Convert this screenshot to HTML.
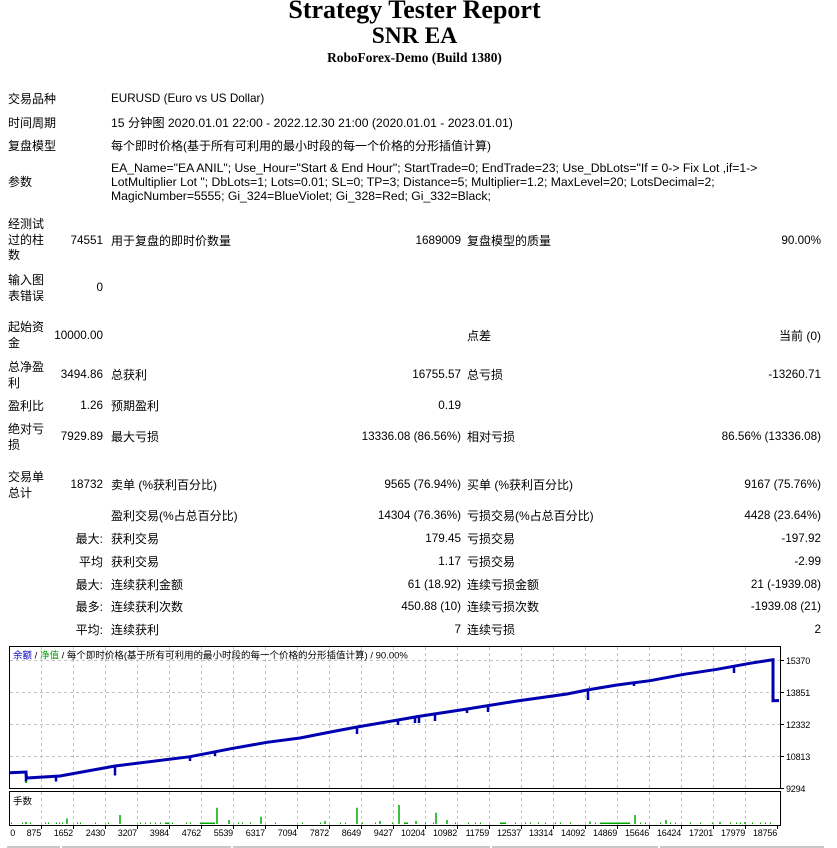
<!DOCTYPE html>
<html><head><meta charset="utf-8">
<style>
html,body{margin:0;padding:0;background:#fff;}
#p{position:relative;width:837px;height:848px;overflow:hidden;background:#fff;color:#000;}
.t{position:absolute;white-space:nowrap;font-family:"Liberation Sans","Noto Sans CJK SC",sans-serif;font-size:12px;line-height:16px;}
.n{font-size:11.7px;}
.w{font-size:12.2px;}
.r{text-align:right;}
.h{position:absolute;left:0;width:829px;text-align:center;font-family:"Liberation Serif",serif;font-weight:bold;white-space:nowrap;}
svg{position:absolute;left:0;top:0;}
</style></head><body><div id="p">
<div class="h" style="top:-3.5px;font-size:26px;line-height:26px;">Strategy Tester Report</div>
<div class="h" style="top:24.6px;font-size:23.5px;line-height:23.5px;">SNR EA</div>
<div class="h" style="top:50.5px;font-size:13.35px;line-height:13.35px;">RoboForex-Demo (Build 1380)</div>

<div class="t" style="left:8px;top:91px;">交易品种</div>
<div class="t n" style="left:111px;top:91px;">EURUSD (Euro vs US Dollar)</div>
<div class="t" style="left:8px;top:114.5px;">时间周期</div>
<div class="t w" style="left:111px;top:114.5px;">15 分钟图 2020.01.01 22:00 - 2022.12.30 21:00 (2020.01.01 - 2023.01.01)</div>
<div class="t" style="left:8px;top:137.5px;">复盘模型</div>
<div class="t" style="left:111px;top:137.5px;">每个即时价格(基于所有可利用的最小时段的每一个价格的分形插值计算)</div>
<div class="t" style="left:8px;top:174px;">参数</div>
<div class="t w" style="left:111px;top:160.7px;line-height:14px;">EA_Name="EA ANIL"; Use_Hour="Start &amp; End Hour"; StartTrade=0; EndTrade=23; Use_DbLots="If = 0-&gt; Fix Lot ,if=1-&gt;<br>LotMultiplier Lot "; DbLots=1; Lots=0.01; SL=0; TP=3; Distance=5; Multiplier=1.2; MaxLevel=20; LotsDecimal=2;<br>MagicNumber=5555; Gi_324=BlueViolet; Gi_328=Red; Gi_332=Black;</div>

<div class="t" style="left:8px;top:217px;line-height:15.5px;">经测试<br>过的柱<br>数</div>
<div class="t n r" style="right:734px;top:233px;">74551</div>
<div class="t" style="left:111px;top:233px;">用于复盘的即时价数量</div>
<div class="t n r" style="right:376px;top:233px;">1689009</div>
<div class="t" style="left:467px;top:233px;">复盘模型的质量</div>
<div class="t n r" style="right:16px;top:233px;">90.00%</div>

<div class="t" style="left:8px;top:272px;">输入图<br>表错误</div>
<div class="t n r" style="right:734px;top:280px;">0</div>

<div class="t" style="left:8px;top:319px;">起始资<br>金</div>
<div class="t n r" style="right:734px;top:327.5px;">10000.00</div>
<div class="t" style="left:467px;top:327.5px;">点差</div>
<div class="t r" style="right:16px;top:327.5px;">当前 (0)</div>

<div class="t" style="left:8px;top:358.5px;">总净盈<br>利</div>
<div class="t n r" style="right:734px;top:366.5px;">3494.86</div>
<div class="t" style="left:111px;top:366.5px;">总获利</div>
<div class="t n r" style="right:376px;top:366.5px;">16755.57</div>
<div class="t" style="left:467px;top:366.5px;">总亏损</div>
<div class="t n r" style="right:16px;top:366.5px;">-13260.71</div>

<div class="t" style="left:8px;top:398px;">盈利比</div>
<div class="t n r" style="right:734px;top:398px;">1.26</div>
<div class="t" style="left:111px;top:398px;">预期盈利</div>
<div class="t n r" style="right:376px;top:398px;">0.19</div>

<div class="t" style="left:8px;top:421px;">绝对亏<br>损</div>
<div class="t n r" style="right:734px;top:429px;">7929.89</div>
<div class="t" style="left:111px;top:429px;">最大亏损</div>
<div class="t n r" style="right:376px;top:429px;">13336.08 (86.56%)</div>
<div class="t" style="left:467px;top:429px;">相对亏损</div>
<div class="t n r" style="right:16px;top:429px;">86.56% (13336.08)</div>

<div class="t" style="left:8px;top:468.5px;">交易单<br>总计</div>
<div class="t n r" style="right:734px;top:476.5px;">18732</div>
<div class="t" style="left:111px;top:476.5px;">卖单 (%获利百分比)</div>
<div class="t n r" style="right:376px;top:476.5px;">9565 (76.94%)</div>
<div class="t" style="left:467px;top:476.5px;">买单 (%获利百分比)</div>
<div class="t n r" style="right:16px;top:476.5px;">9167 (75.76%)</div>

<div class="t" style="left:111px;top:508px;">盈利交易(%占总百分比)</div>
<div class="t n r" style="right:376px;top:508px;">14304 (76.36%)</div>
<div class="t" style="left:467px;top:508px;">亏损交易(%占总百分比)</div>
<div class="t n r" style="right:16px;top:508px;">4428 (23.64%)</div>

<div class="t r" style="right:734px;top:530.5px;">最大:</div>
<div class="t" style="left:111px;top:530.5px;">获利交易</div>
<div class="t n r" style="right:376px;top:530.5px;">179.45</div>
<div class="t" style="left:467px;top:530.5px;">亏损交易</div>
<div class="t n r" style="right:16px;top:530.5px;">-197.92</div>

<div class="t r" style="right:734px;top:553.5px;">平均</div>
<div class="t" style="left:111px;top:553.5px;">获利交易</div>
<div class="t n r" style="right:376px;top:553.5px;">1.17</div>
<div class="t" style="left:467px;top:553.5px;">亏损交易</div>
<div class="t n r" style="right:16px;top:553.5px;">-2.99</div>

<div class="t r" style="right:734px;top:576.5px;">最大:</div>
<div class="t" style="left:111px;top:576.5px;">连续获利金额</div>
<div class="t n r" style="right:376px;top:576.5px;">61 (18.92)</div>
<div class="t" style="left:467px;top:576.5px;">连续亏损金额</div>
<div class="t n r" style="right:16px;top:576.5px;">21 (-1939.08)</div>

<div class="t r" style="right:734px;top:599px;">最多:</div>
<div class="t" style="left:111px;top:599px;">连续获利次数</div>
<div class="t n r" style="right:376px;top:599px;">450.88 (10)</div>
<div class="t" style="left:467px;top:599px;">连续亏损次数</div>
<div class="t n r" style="right:16px;top:599px;">-1939.08 (21)</div>

<div class="t r" style="right:734px;top:622px;">平均:</div>
<div class="t" style="left:111px;top:622px;">连续获利</div>
<div class="t n r" style="right:376px;top:622px;">7</div>
<div class="t" style="left:467px;top:622px;">连续亏损</div>
<div class="t n r" style="right:16px;top:622px;">2</div>

<svg width="837" height="848" viewBox="0 0 837 848" xmlns="http://www.w3.org/2000/svg">
<g stroke="#c4c4c4" stroke-width="1" stroke-dasharray="3,3" fill="none">
<path d="M10 660.5H780M10 692.5H780M10 724.5H780M10 756.5H780"/>
<path d="M41.5 647V788M73.5 647V788M105.5 647V788M137.5 647V788M169.5 647V788M201.5 647V788M233.5 647V788M265.5 647V788M297.5 647V788M329.5 647V788M361.5 647V788M393.5 647V788M425.5 647V788M457.5 647V788M489.5 647V788M521.5 647V788M553.5 647V788M585.5 647V788M617.5 647V788M649.5 647V788M681.5 647V788M713.5 647V788M745.5 647V788"/>
<path d="M41.5 792V825M73.5 792V825M105.5 792V825M137.5 792V825M169.5 792V825M201.5 792V825M233.5 792V825M265.5 792V825M297.5 792V825M329.5 792V825M361.5 792V825M393.5 792V825M425.5 792V825M457.5 792V825M489.5 792V825M521.5 792V825M553.5 792V825M585.5 792V825M617.5 792V825M649.5 792V825M681.5 792V825M713.5 792V825M745.5 792V825"/>
</g>
<g fill="none" stroke="#000" stroke-width="1">
<rect x="9.5" y="646.5" width="771" height="142"/>
<rect x="9.5" y="791.5" width="771" height="34"/>
<path d="M780.5 660.5H784M780.5 692.5H784M780.5 724.5H784M780.5 756.5H784M780.5 788.5H784"/>
<path d="M41.5 825.5V829M73.5 825.5V829M105.5 825.5V829M137.5 825.5V829M169.5 825.5V829M201.5 825.5V829M233.5 825.5V829M265.5 825.5V829M297.5 825.5V829M329.5 825.5V829M361.5 825.5V829M393.5 825.5V829M425.5 825.5V829M457.5 825.5V829M489.5 825.5V829M521.5 825.5V829M553.5 825.5V829M585.5 825.5V829M617.5 825.5V829M649.5 825.5V829M681.5 825.5V829M713.5 825.5V829M745.5 825.5V829M777.5 825.5V829"/>
</g>
<g stroke="#00a800" stroke-width="1.5">
<path d="M217 824V807.7M357 824V807.7M399 824V805M436 824V812.7M120 824V815M635 824V815M261 824V816.7M67 824V818.5M229 824V820M447 824V820M666 824V820M325 824V821M380 824V821M416 824V821M26 824V822M590 824V821.5M720 824V822M745 824V822"/>
</g>
<g fill="#00a800">
<rect x="11" y="822.5" width="1" height="1.5"/><rect x="22" y="822.5" width="1" height="1.5"/><rect x="30" y="822.5" width="1" height="1.5"/><rect x="45" y="822.5" width="1" height="1.5"/><rect x="48" y="822.5" width="1" height="1.5"/><rect x="56" y="822.5" width="1" height="1.5"/><rect x="59" y="822.5" width="1" height="1.5"/><rect x="62" y="822.5" width="1" height="1.5"/><rect x="77" y="822.5" width="1" height="1.5"/><rect x="80" y="822.5" width="1" height="1.5"/><rect x="95" y="822.5" width="1" height="1.5"/><rect x="108" y="822.5" width="1" height="1.5"/><rect x="140" y="822.5" width="1" height="1.5"/><rect x="145" y="822.5" width="1" height="1.5"/><rect x="150" y="822.5" width="1" height="1.5"/><rect x="155" y="822.5" width="1" height="1.5"/><rect x="160" y="822.5" width="1" height="1.5"/><rect x="165" y="822.5" width="4" height="1.5"/><rect x="172" y="822.5" width="1" height="1.5"/><rect x="186" y="822.5" width="1" height="1.5"/><rect x="190" y="822.5" width="1" height="1.5"/><rect x="200" y="822.5" width="15" height="1.5"/><rect x="238" y="822.5" width="1" height="1.5"/><rect x="242" y="822.5" width="1" height="1.5"/><rect x="250" y="822.5" width="1" height="1.5"/><rect x="275" y="822.5" width="1" height="1.5"/><rect x="302" y="822.5" width="1" height="1.5"/><rect x="320" y="822.5" width="1" height="1.5"/><rect x="340" y="822.5" width="1" height="1.5"/><rect x="345" y="822.5" width="1" height="1.5"/><rect x="362" y="822.5" width="1" height="1.5"/><rect x="375" y="822.5" width="1" height="1.5"/><rect x="392" y="822.5" width="1" height="1.5"/><rect x="404" y="822.5" width="4" height="1.5"/><rect x="425" y="822.5" width="1" height="1.5"/><rect x="433" y="822.5" width="1" height="1.5"/><rect x="455" y="822.5" width="1" height="1.5"/><rect x="468" y="822.5" width="1" height="1.5"/><rect x="475" y="822.5" width="1" height="1.5"/><rect x="480" y="822.5" width="1" height="1.5"/><rect x="500" y="822.5" width="6" height="1.5"/><rect x="515" y="822.5" width="1" height="1.5"/><rect x="525" y="822.5" width="1" height="1.5"/><rect x="530" y="822.5" width="1" height="1.5"/><rect x="538" y="822.5" width="1" height="1.5"/><rect x="545" y="822.5" width="1" height="1.5"/><rect x="555" y="822.5" width="1" height="1.5"/><rect x="560" y="822.5" width="1" height="1.5"/><rect x="570" y="822.5" width="1" height="1.5"/><rect x="595" y="822.5" width="1" height="1.5"/><rect x="600" y="822.5" width="30" height="1.5"/><rect x="640" y="822.5" width="1" height="1.5"/><rect x="645" y="822.5" width="1" height="1.5"/><rect x="660" y="822.5" width="1" height="1.5"/><rect x="670" y="822.5" width="1" height="1.5"/><rect x="675" y="822.5" width="1" height="1.5"/><rect x="690" y="822.5" width="1" height="1.5"/><rect x="700" y="822.5" width="1" height="1.5"/><rect x="712" y="822.5" width="1" height="1.5"/><rect x="730" y="822.5" width="1" height="1.5"/><rect x="736" y="822.5" width="1" height="1.5"/><rect x="740" y="822.5" width="1" height="1.5"/><rect x="752" y="822.5" width="1" height="1.5"/><rect x="760" y="822.5" width="1" height="1.5"/><rect x="765" y="822.5" width="1" height="1.5"/><rect x="770" y="822.5" width="1" height="1.5"/>
</g>
<g stroke="#0000b0" fill="none" stroke-width="3">
<polyline points="10,772.7 26,772 26.5,778 60,776 115,766 190,756.7 233,748.3 267,742.3 300,738 333,731.5 357,727 398,720 418,716.5 467,709 517,701 567,694 587,690 617,685 650,680.7 684,674.3 717,669.3 750,663.3 773,659.7 773,700.7 779,700.5"/>
</g>
<g stroke="#0000b0" stroke-width="2.5">
<path d="M26 772V782M56 776.5V781.5M115 766V775.5M190 756.7V761M215 752V756M357 727V734M398 720V725M415 717.5V723M419 716.5V723M435 713V721M467 709V713M488 706V712M588 690V700M634 683V686M734 666V673"/>
</g>
<g fill="#00a800">
<rect x="25" y="781" width="2" height="2"/><rect x="589" y="686" width="1" height="3"/>
</g>
<g font-family="Liberation Sans, Noto Sans CJK SC, sans-serif" font-size="9.5" fill="#000">
<text x="13" y="658.3"><tspan fill="#0000c0">余额</tspan> / <tspan fill="#00a000">净值</tspan> / 每个即时价格(基于所有可利用的最小时段的每一个价格的分形插值计算) / 90.00%</text>
<text x="13" y="804.3">手数</text>
</g>
<g font-family="Liberation Sans, sans-serif" font-size="9" fill="#000" letter-spacing="-0.2">
<text x="786" y="664.2">15370</text>
<text x="786" y="696.2">13851</text>
<text x="786" y="728.2">12332</text>
<text x="786" y="760.2">10813</text>
<text x="786" y="792.2">9294</text>
</g>
<g font-family="Liberation Sans, sans-serif" font-size="9" fill="#000" letter-spacing="-0.2" text-anchor="end">
<text x="15" y="836">0</text>
<text x="41" y="836">875</text>
<text x="73" y="836">1652</text>
<text x="105" y="836">2430</text>
<text x="137" y="836">3207</text>
<text x="169" y="836">3984</text>
<text x="201" y="836">4762</text>
<text x="233" y="836">5539</text>
<text x="265" y="836">6317</text>
<text x="297" y="836">7094</text>
<text x="329" y="836">7872</text>
<text x="361" y="836">8649</text>
<text x="393" y="836">9427</text>
<text x="425" y="836">10204</text>
<text x="457" y="836">10982</text>
<text x="489" y="836">11759</text>
<text x="521" y="836">12537</text>
<text x="553" y="836">13314</text>
<text x="585" y="836">14092</text>
<text x="617" y="836">14869</text>
<text x="649" y="836">15646</text>
<text x="681" y="836">16424</text>
<text x="713" y="836">17201</text>
<text x="745" y="836">17979</text>
<text x="777" y="836">18756</text>
</g>
<g fill="#c8c8c8">
<rect x="7" y="846" width="53" height="2"/><rect x="62" y="846" width="169" height="2"/><rect x="233" y="846" width="257" height="2"/><rect x="492" y="846" width="166" height="2"/><rect x="660" y="846" width="164" height="2"/>
</g>
</svg>
</div></body></html>
